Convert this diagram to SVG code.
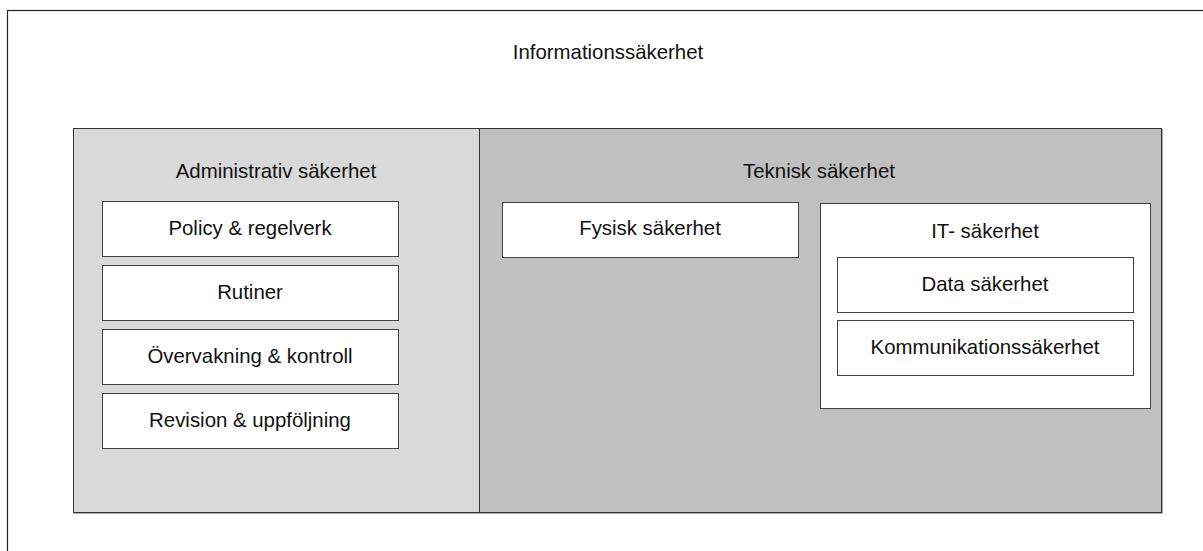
<svg xmlns="http://www.w3.org/2000/svg" width="1203" height="551" viewBox="0 0 1203 551">
  <style>
    .lbl { font-family: "Liberation Sans", Arial, sans-serif; font-size: 20.4px; fill: #111; text-anchor: middle; }
    .box { fill: #ffffff; stroke: #404040; stroke-width: 1; }
    .shadow { fill: none; stroke: #a8a8a8; stroke-width: 1; }
  </style>
  <rect width="1203" height="551" fill="#ffffff"/>

  <!-- outer frame: extends past the canvas edges -->
  <g id="informationssakerhet">
    <rect x="7.5" y="10.5" width="1230" height="600" fill="none" stroke="#222" stroke-width="1.2"/>
    <text class="lbl" x="608" y="59">Informationssäkerhet</text>
  </g>

  <g id="administrativ">
    <rect x="73.5" y="128.5" width="406" height="384" fill="#d9d9d9" stroke="#333" stroke-width="1"/>
    <text class="lbl" x="276" y="178">Administrativ säkerhet</text>
  </g>

  <g id="teknisk">
    <rect x="479.5" y="128.5" width="682" height="384" fill="#c0c0c0" stroke="#333" stroke-width="1"/>
    <polyline class="shadow" points="1162.5,129 1162.5,513.5 74,513.5" stroke="#9a9a9a"/>
    <text class="lbl" x="819" y="178">Teknisk säkerhet</text>
  </g>

  <g id="policy">
    <rect class="box" x="102.5" y="201.5" width="296" height="55"/>
    <text class="lbl" x="250" y="235">Policy &amp; regelverk</text>
  </g>
  <g id="rutiner">
    <rect class="box" x="102.5" y="265.5" width="296" height="55"/>
    <text class="lbl" x="250" y="299">Rutiner</text>
  </g>
  <g id="overvakning">
    <rect class="box" x="102.5" y="329.5" width="296" height="55"/>
    <text class="lbl" x="250" y="363">Övervakning &amp; kontroll</text>
  </g>
  <g id="revision">
    <rect class="box" x="102.5" y="393.5" width="296" height="55"/>
    <text class="lbl" x="250" y="427">Revision &amp; uppföljning</text>
  </g>

  <g id="fysisk">
    <rect class="box" x="502.5" y="202.5" width="296" height="55"/>
    <text class="lbl" x="650" y="235">Fysisk säkerhet</text>
  </g>

  <g id="it">
    <rect class="box" x="820.5" y="203.5" width="330" height="205"/>
    <text class="lbl" x="985" y="238">IT- säkerhet</text>
  </g>
  <g id="data">
    <rect class="box" x="837.5" y="257.5" width="296" height="55"/>
    <text class="lbl" x="985" y="291">Data säkerhet</text>
  </g>
  <g id="kommunikation">
    <rect class="box" x="837.5" y="320.5" width="296" height="55"/>
    <text class="lbl" x="985" y="354">Kommunikationssäkerhet</text>
  </g>

  <!-- no connectors in this diagram -->
  <g id="connectors"/>
</svg>
